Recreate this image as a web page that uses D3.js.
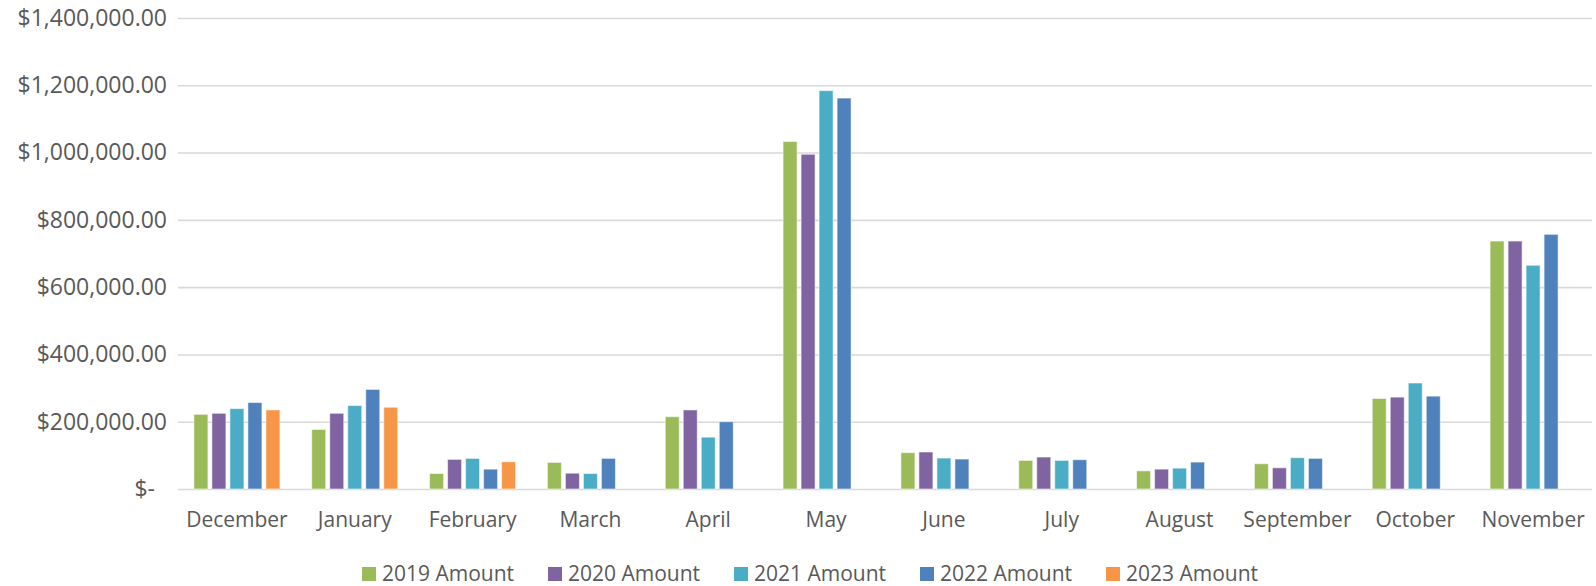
<!DOCTYPE html>
<html>
<head>
<meta charset="utf-8">
<script src="https://cdn.jsdelivr.net/npm/d3@7"></script>
<style>
  html, body { margin: 0; padding: 0; background: #fff; }
  svg { display: block; font-family: "Open Sans", sans-serif; }
</style>
</head>
<body>
<svg id="chart" width="1596" height="586"></svg>
<script>
const months = ["December","January","February","March","April","May","June","July","August","September","October","November"];
const seriesNames = ["2019 Amount","2020 Amount","2021 Amount","2022 Amount","2023 Amount"];
const amount2019 = [222000, 177000, 46000, 79000, 215000, 1033000, 108000, 85000, 54000, 75000, 269000, 737000];
const amount2020 = [225000, 225000, 88000, 47000, 235000, 995000, 110000, 95000, 59000, 63000, 273000, 737000];
const amount2021 = [239000, 248000, 91000, 46000, 154000, 1184000, 92000, 85000, 62000, 93000, 315000, 665000];
const amount2022 = [257000, 296000, 59000, 91000, 200000, 1162000, 89000, 87000, 80000, 91000, 276000, 757000];
const amount2023 = [235000, 243000, 81000, null, null, null, null, null, null, null, null, null];
const yTicks = [0, 200000, 400000, 600000, 800000, 1000000, 1200000, 1400000];
const colors = ["#9BBB59", "#8064A2", "#4BACC6", "#4F81BD", "#F79646"];

const seriesValues = [amount2019, amount2020, amount2021, amount2022, amount2023];

const svg = d3.select("#chart");
const plotLeft = 178, plotRight = 1592, plotTop = 18, plotBottom = 489;

const x = d3.scaleBand().domain(months).range([plotLeft, plotRight]).paddingInner(0.236).paddingOuter(0.118);
const xi = d3.scaleBand().domain(seriesNames).range([0, x.bandwidth()]);
const y = d3.scaleLinear().domain([0, 1400000]).range([plotBottom, plotTop]);

const fmt = d3.format("$,.2f");

// Y axis with gridlines
const yAxis = d3.axisLeft(y).tickValues(yTicks)
  .tickFormat(d => d === 0 ? "$-" : fmt(d))
  .tickSize(-(plotRight - plotLeft)).tickPadding(11);
const gy = svg.append("g").attr("transform", `translate(${plotLeft},0)`).call(yAxis);
gy.select(".domain").remove();
gy.selectAll(".tick line").attr("stroke", "#d9d9d9").attr("stroke-width", 1.6);
gy.selectAll(".tick text").attr("fill", "#595959").attr("font-size", 23)
  .attr("font-family", "'Open Sans', sans-serif")
  .attr("dx", d => d === 0 ? -12 : 0);

// Bars
const gBars = svg.append("g");
seriesNames.forEach((name, si) => {
  const vals = seriesValues[si];
  gBars.append("g").selectAll("rect")
    .data(months.map((m, i) => ({ m, v: vals[i] })).filter(d => d.v != null))
    .join("rect")
    .attr("x", d => x(d.m) + xi(name) + 2)
    .attr("width", xi.bandwidth() - 4)
    .attr("y", d => y(d.v))
    .attr("height", d => y(0) - y(d.v))
    .attr("fill", colors[si])
    .attr("stroke", "#ffffff")
    .attr("stroke-opacity", 0.55)
    .attr("stroke-width", 1);
});

// X axis
const xAxis = d3.axisBottom(x).tickSize(0).tickPadding(23);
const gx = svg.append("g").attr("transform", `translate(0,${plotBottom})`).call(xAxis);
gx.select(".domain").remove();
gx.selectAll(".tick text").attr("fill", "#595959").attr("font-size", 21)
  .attr("font-family", "'Open Sans', sans-serif");

// Legend
const legendX0 = 362, legendStep = 186, legendY = 567;
const lg = svg.append("g");
seriesNames.forEach((name, i) => {
  const g = lg.append("g").attr("transform", `translate(${legendX0 + i * legendStep},${legendY})`);
  g.append("rect").attr("width", 14).attr("height", 14).attr("fill", colors[i]);
  g.append("text").attr("x", 20).attr("y", 14).attr("fill", "#595959")
    .attr("font-size", 21).text(name);
});
</script>
</body>
</html>
